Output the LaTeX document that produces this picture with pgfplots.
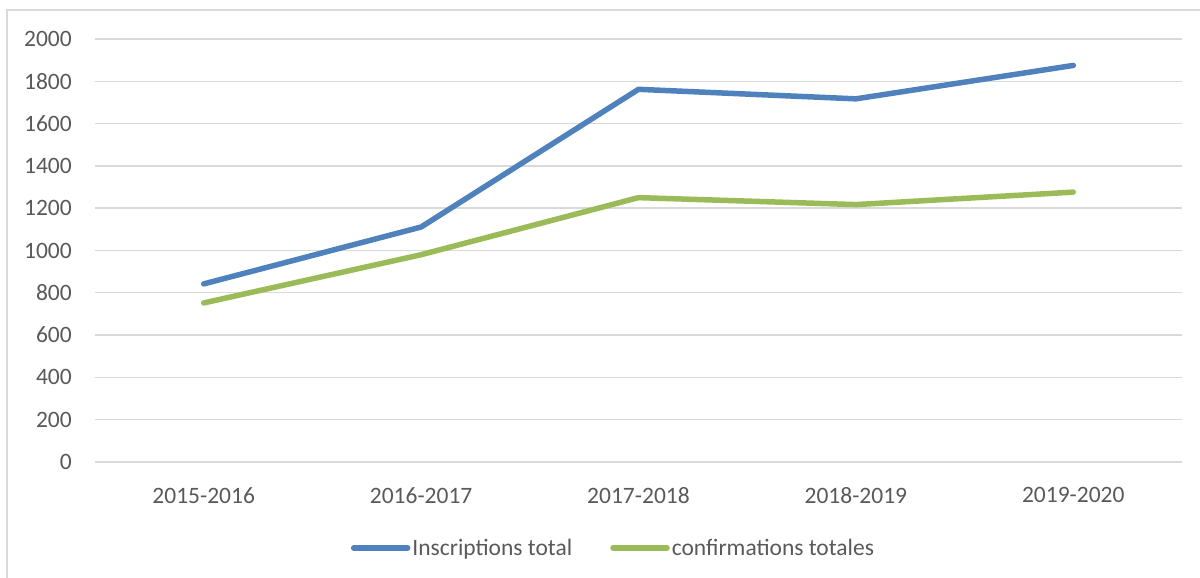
\documentclass[border=0pt]{standalone}
\usepackage{fontspec}
\setmainfont{Carlito}
\usepackage{pgfplots}
\pgfplotsset{compat=1.18}
\definecolor{serA}{HTML}{4F81BD}
\definecolor{serB}{HTML}{9BBB59}
\definecolor{gridc}{HTML}{D9D9D9}
\definecolor{txt}{HTML}{595959}
\begin{document}
\begin{tikzpicture}[x=1pt,y=1pt]
\useasboundingbox (0,0) rectangle (1200,578);
\draw[gridc, line width=1.3pt] (7,-20) rectangle (1220,568);
\begin{axis}[
  at={(95pt,116pt)}, anchor=south west,
  scale only axis, width=1087pt, height=423pt,
  xmin=-0.5, xmax=4.5, ymin=0, ymax=2000,
  ytick={0,200,...,2000},
  xtick={0,1,2,3,4},
  xticklabels={2015-2016,2016-2017,2017-2018,2018-2019,2019-2020},
  axis line style={draw=none},
  major tick length=0pt,
  ymajorgrids, grid style={gridc, line width=1.4pt},
  /pgf/number format/assume math mode=true,
  /pgf/number format/1000 sep={},
  tick label style={font=\fontsize{23.5}{28}\selectfont, text=txt, inner sep=0pt},
  yticklabel style={anchor=east, xshift=-23pt},
  xticklabel style={anchor=north, yshift=-25pt},
  legend columns=2,
  legend style={draw=none, fill=none, at={(0.477,-0.203)}, anchor=center,
    font=\fontsize{23.5}{28}\selectfont, text=txt,
    /tikz/every even column/.append style={column sep=36pt},
    nodes={inner sep=2pt}},
  legend image code/.code={\draw[#1, line cap=round] (0pt,0pt) -- (54pt,0pt);},
]
\addplot[serA, line width=5.5pt, line cap=round, line join=round] coordinates {
  (0,842) (1,1111) (2,1762) (3,1717) (4,1875)};
\addlegendentry{Inscriptions total}
\addplot[serB, line width=5.5pt, line cap=round, line join=round] coordinates {
  (0,752) (1,980) (2,1250) (3,1217) (4,1276)};
\addlegendentry{confirmations totales}
\end{axis}
\end{tikzpicture}
\end{document}
